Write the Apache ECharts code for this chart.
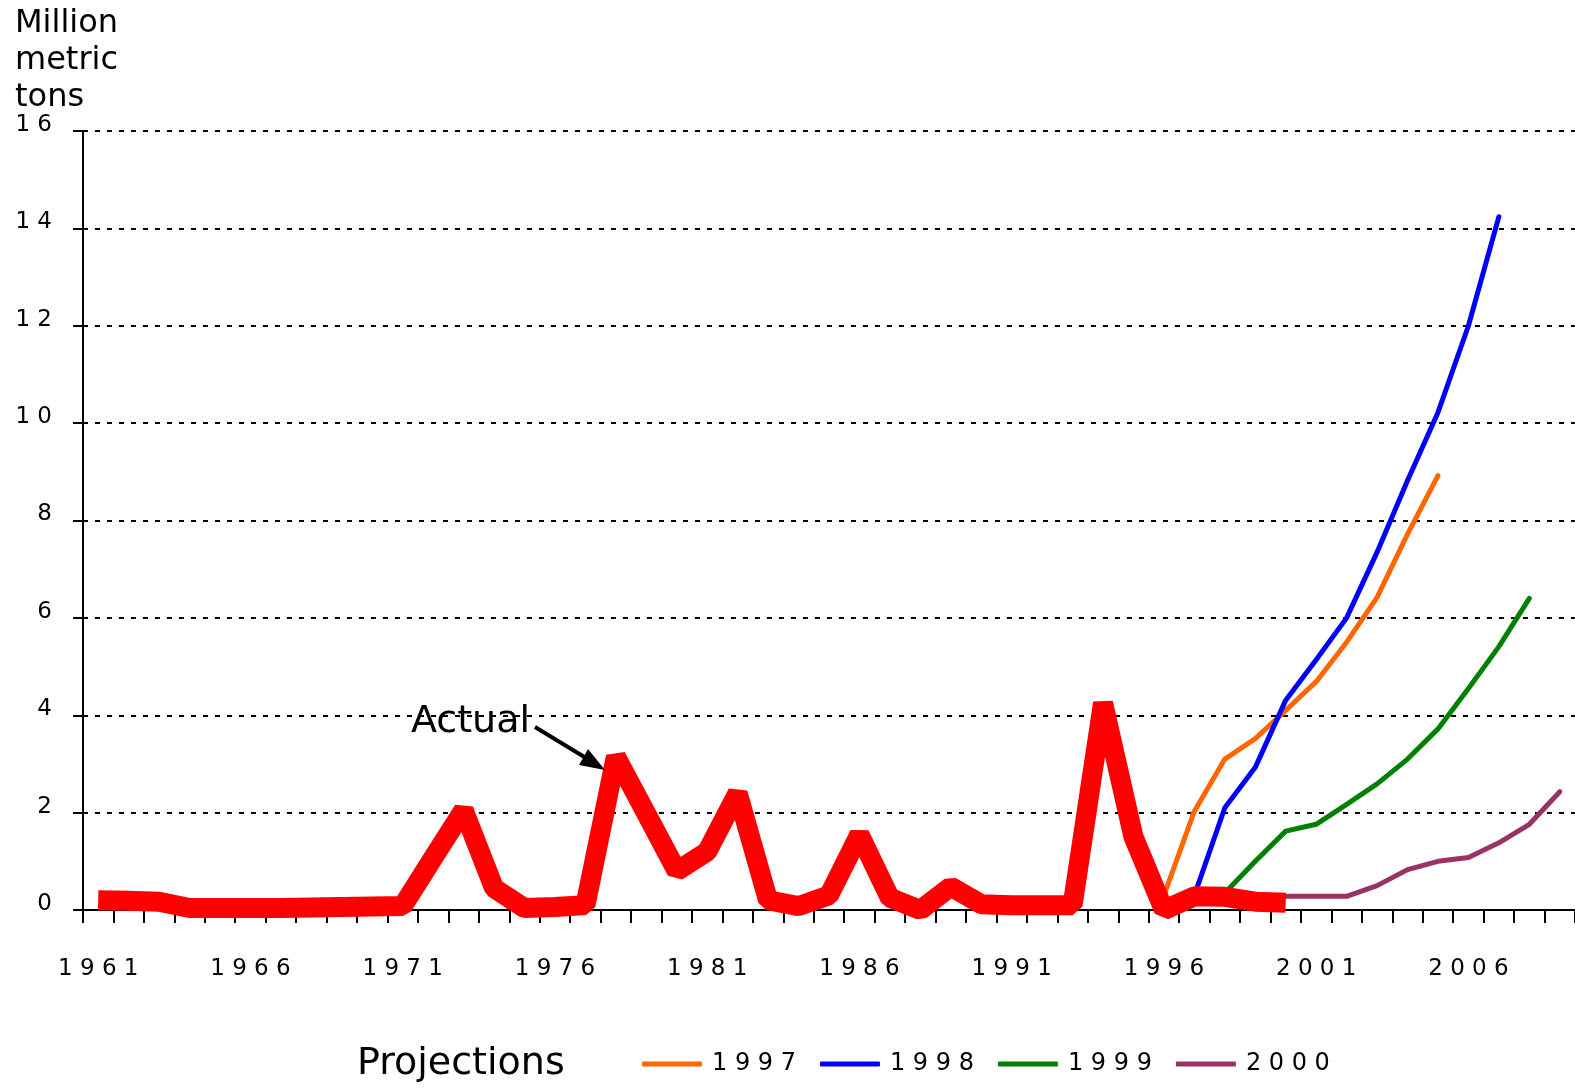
<!DOCTYPE html>
<html>
<head>
<meta charset="utf-8">
<title>Million metric tons</title>
<script src="https://cdn.jsdelivr.net/npm/echarts@6/dist/echarts.min.js"></script>
<style>
  html, body { margin: 0; padding: 0; background: #fff; }
  #chart { width: 1575px; height: 1088px; }
</style>
</head>
<body>
<div id="chart"></div>
<script>
const years = [
  '1961', '1962', '1963', '1964', '1965', '1966', '1967', '1968', '1969', '1970',
  '1971', '1972', '1973', '1974', '1975', '1976', '1977', '1978', '1979', '1980',
  '1981', '1982', '1983', '1984', '1985', '1986', '1987', '1988', '1989', '1990',
  '1991', '1992', '1993', '1994', '1995', '1996', '1997', '1998', '1999', '2000',
  '2001', '2002', '2003', '2004', '2005', '2006', '2007', '2008', '2009',
];

// actual, 1961-2000
const actualValues = [
  0.2, 0.19, 0.17, 0.04, 0.04, 0.04, 0.04, 0.05, 0.06, 0.07,
  0.08, 1.07, 2.05, 0.45, 0.04, 0.06, 0.1, 3.15, 1.98, 0.8,
  1.2, 2.4, 0.2, 0.08, 0.3, 1.55, 0.25, 0.0, 0.48, 0.12,
  0.1, 0.1, 0.1, 4.25, 1.5, 0.0, 0.28, 0.27, 0.17, 0.15,
];

// projections, each with its first year
const proj1997Start = '1996';
const proj1997 = [0.3, 2.03, 3.1, 3.52, 4.1, 4.69, 5.5, 6.42, 7.72, 8.92];
const proj1998Start = '1997';
const proj1998 = [0.3, 2.1, 2.93, 4.31, 5.14, 6.0, 7.35, 8.82, 10.22, 12.0, 14.24];
const proj1999Start = '1998';
const proj1999 = [0.35, 1.0, 1.62, 1.76, 2.17, 2.59, 3.1, 3.72, 4.55, 5.41, 6.4];
const proj2000Start = '1999';
const proj2000 = [0.28, 0.28, 0.28, 0.28, 0.5, 0.83, 1.0, 1.08, 1.38, 1.76, 2.43];

const yTicks = { min: 0, max: 16, interval: 2 };

const FONT = '"DejaVu Sans", Verdana, sans-serif';
const spaced = (s) => String(s).split('').join(' ');

const toPairs = (start, values) => {
  const first = years.indexOf(start);
  return values.map((v, i) => [years[first + i], v]);
};

const projLine = (name, color, start, values) => ({
  name,
  type: 'line',
  data: toPairs(start, values),
  symbol: 'none',
  color,
  lineStyle: {
    color, width: 5, cap: 'round', join: 'round',
  },
  z: 2,
});

const chart = echarts.init(document.getElementById('chart'));

chart.setOption({
  animation: false,
  backgroundColor: '#fff',
  title: {
    text: 'Million\nmetric\ntons',
    left: 10,
    top: 0,
    textStyle: {
      fontFamily: FONT,
      fontSize: 32,
      fontWeight: 'normal',
      color: '#000',
      lineHeight: 37,
    },
  },
  legend: {
    data: ['1997', '1998', '1999', '2000'],
    left: 637,
    top: 1046,
    icon: 'roundRect',
    itemWidth: 60,
    itemHeight: 5,
    itemGap: 24,
    formatter: (name) => spaced(name),
    textStyle: {
      fontFamily: FONT,
      fontSize: 24,
      color: '#000',
      lineHeight: 26,
      padding: [0, 0, 0, 5],
    },
  },
  grid: {
    left: 83,
    top: 131,
    width: 1494,
    height: 779,
  },
  xAxis: {
    type: 'category',
    data: years,
    boundaryGap: true,
    axisLine: { lineStyle: { color: '#000', width: 2 } },
    axisTick: {
      show: true, interval: 0, length: 13, lineStyle: { color: '#000', width: 2 },
    },
    axisLabel: {
      interval: 4,
      margin: 48,
      fontFamily: FONT,
      fontSize: 23,
      color: '#000',
      formatter: (v) => spaced(v),
    },
    splitLine: { show: false },
  },
  yAxis: {
    type: 'value',
    min: yTicks.min,
    max: yTicks.max,
    interval: yTicks.interval,
    axisLine: { show: true, lineStyle: { color: '#000', width: 2 } },
    axisTick: { show: true, length: 10, lineStyle: { color: '#000', width: 2 } },
    axisLabel: {
      margin: 31,
      fontFamily: FONT,
      fontSize: 23,
      color: '#000',
      verticalAlign: 'bottom',
      lineHeight: 12,
      formatter: (v) => spaced(v),
    },
    splitLine: {
      show: true,
      lineStyle: { color: '#000', width: 2, type: [5, 7] },
    },
  },
  series: [
    projLine('1997', '#FF6600', proj1997Start, proj1997),
    projLine('1998', '#0000FF', proj1998Start, proj1998),
    projLine('1999', '#008000', proj1999Start, proj1999),
    projLine('2000', '#993366', proj2000Start, proj2000),
    {
      name: 'Actual',
      type: 'line',
      data: toPairs('1961', actualValues),
      symbol: 'none',
      color: '#FF0000',
      lineStyle: {
        color: '#FF0000', width: 20, cap: 'butt', join: 'bevel',
      },
      z: 3,
    },
  ],
  graphic: [
    {
      type: 'text',
      left: 411,
      top: 703,
      style: {
        text: 'Actual', font: `38px ${FONT}`, fill: '#000',
      },
      z: 10,
    },
    {
      type: 'line',
      shape: {
        x1: 535, y1: 727, x2: 586, y2: 758,
      },
      style: { stroke: '#000', lineWidth: 4 },
      z: 10,
    },
    {
      type: 'polygon',
      shape: { points: [[605, 770], [579, 765], [588, 749]] },
      style: { fill: '#000' },
      z: 10,
    },
    {
      type: 'text',
      left: 357,
      top: 1045,
      style: {
        text: 'Projections', font: `38px ${FONT}`, fill: '#000',
      },
      z: 10,
    },
  ],
});
</script>
</body>
</html>
